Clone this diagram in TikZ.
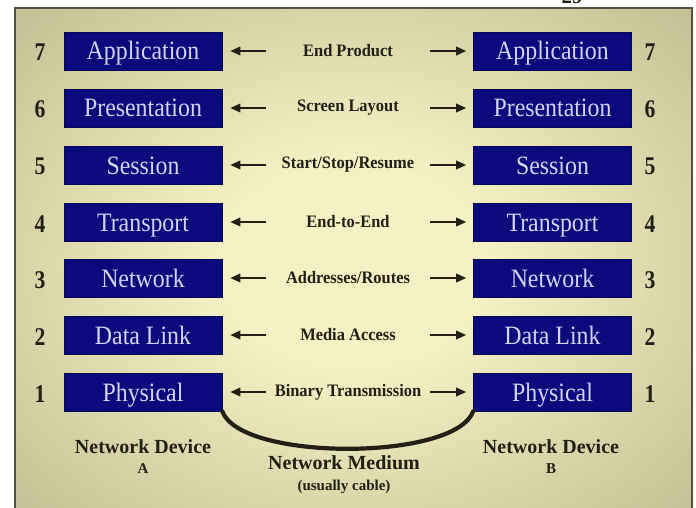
\documentclass[tikz,border=0pt]{standalone}
\usepackage{fontspec}
\setmainfont{Liberation Serif}
\newfontfamily\boxfont[FakeStretch=0.9]{Liberation Serif}
\newfontfamily\numfont[FakeStretch=0.85]{Liberation Serif}
\newfontfamily\midfont[FakeStretch=0.94]{Liberation Serif}
\usetikzlibrary{arrows.meta}
\definecolor{navy}{HTML}{0A0A7C}
\definecolor{boxtxt}{HTML}{D4D4F2}
\definecolor{bgin}{HTML}{F4F1C4}
\definecolor{bgout}{HTML}{A6A379}
\definecolor{frame}{HTML}{55523F}
\definecolor{ink}{HTML}{221F14}
\pgfdeclareradialshading{bgshade}{\pgfpoint{0bp}{0bp}}{color(0bp)=(bgin); color(10bp)=(bgin); color(50bp)=(bgout); color(72bp)=(bgout)}
\newcommand{\osirow}[4]{%
  \node[layer] (l#1) at (143,#2) {#3};
  \node[layer] (r#1) at (552.5,#2) {#3};
  \node[num] (nl#1) at (40,#2) {#1};
  \node[num] (nr#1) at (650,#2) {#1};
  \node[mid] (m#1) at (348,#2) {#4};
  \draw[arr] ([xshift=44pt]l#1.east) -- ([xshift=8pt]l#1.east);
  \draw[arr] ([xshift=-43pt]r#1.west) -- ([xshift=-7pt]r#1.west);
}
\begin{document}
\begin{tikzpicture}[x=1pt,y=-1pt,
  layer/.style={fill=navy,draw=navy!70!black,line width=0.6pt,minimum width=158pt,minimum height=38pt,inner sep=0pt,text height=18pt,text depth=0pt,text=boxtxt,font=\boxfont\fontsize{26.5}{26.5}\selectfont},
  num/.style={text=ink,text height=20pt,text depth=0pt,inner sep=0pt,font=\numfont\bfseries\fontsize{25.5}{25.5}\selectfont},
  mid/.style={text=ink,font=\midfont\bfseries\fontsize{17.5}{17.5}\selectfont},
  arr/.style={draw=ink,-{Triangle[length=10pt,width=8.5pt]},line width=1.8pt},
  dev/.style={text=ink,font=\bfseries\fontsize{20}{21}\selectfont,align=center}]
\useasboundingbox (0,0) rectangle (696,508);
\shade[shading=bgshade] (15,8) rectangle (693,520);
\draw[frame,line width=1.2pt] (15,520) -- (15,8) -- (692,8) -- (692,520);
\node[text=ink,font=\bfseries\fontsize{21}{21}\selectfont,anchor=base] (pg) at (572,4) {29};
\osirow{7}{51}{Application}{End Product}
\osirow{6}{108}{Presentation}{Screen Layout}
\osirow{5}{165}{Session}{Start/Stop/Resume}
\osirow{4}{222}{Transport}{End-to-End}
\osirow{3}{278}{Network}{Addresses/Routes}
\osirow{2}{335}{Data Link}{Media Access}
\osirow{1}{392}{Physical}{Binary Transmission}
\draw[ink,line width=4.2pt,line cap=round] (l1.south east) .. controls +(18,50) and +(-18,50) .. (r1.south west);
\node[dev] (da) at (143,457) {Network Device\\[-1pt]{\fontsize{15}{15}\selectfont A}};
\node[dev] (db) at (551,457) {Network Device\\[-1pt]{\fontsize{15}{15}\selectfont B}};
\node[dev] (med) at (344,475) {Network Medium\\[0pt]{\fontsize{15}{15}\selectfont (usually cable)}};
\end{tikzpicture}
\end{document}
